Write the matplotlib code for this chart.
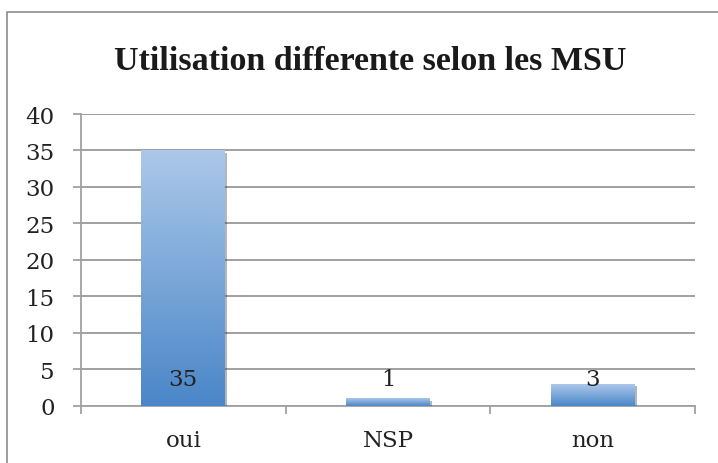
import numpy as np
import matplotlib.pyplot as plt
from matplotlib.patches import Rectangle
from matplotlib.colors import LinearSegmentedColormap
import matplotlib.patheffects as pe

categories = ['oui', 'NSP', 'non']
values = [35, 1, 3]
title = 'Utilisation differente selon les MSU'

fig = plt.figure(figsize=(7.18, 4.64), dpi=100)
ax = fig.add_axes([81/718, 1-406.5/464, (695-81)/718, (406.5-115)/464])

# outer chart frame
fig.patches.append(Rectangle((7/718, -0.1), 1.2, 1-13/464+0.1, transform=fig.transFigure,
                             fill=False, edgecolor='#8c8c8c', linewidth=1.2))

x = np.arange(len(categories))
cmap = LinearSegmentedColormap.from_list('excel', ['#4a86c8', '#abc8e9'])
grad = np.linspace(0, 1, 256).reshape(-1, 1)
bars = ax.bar(x, values, width=0.41, color='#7aa7db', zorder=3,
              path_effects=[pe.SimplePatchShadow(offset=(1.5, -2), alpha=0.35), pe.Normal()])
for b in bars:
    x0, y0 = b.get_x(), b.get_y()
    im = ax.imshow(grad, cmap=cmap, origin='lower', aspect='auto', zorder=4,
                   extent=[x0, x0 + b.get_width(), y0, y0 + b.get_height()])
    im.set_clip_path(b)

for xi, v in zip(x, values):
    ax.text(xi, 3.7, str(v), ha='center', va='center', fontsize=16.5,
            family='DejaVu Serif', color='#222222', zorder=5)

ax.set_xlim(-0.5, 2.5)
ax.set_ylim(0, 40)
ax.set_yticks(range(0, 41, 5))
ax.set_xticks(x)
ax.set_xticklabels(categories)
ax.set_xticks([-0.5, 0.5, 1.5, 2.5], minor=True)
ax.tick_params(axis='x', which='major', length=0, pad=17)
ax.tick_params(axis='x', which='minor', length=6, width=1.3, color='#a0a0a0')
ax.tick_params(axis='y', length=6, width=1.3, color='#a0a0a0', pad=13)
for lab in ax.get_xticklabels() + ax.get_yticklabels():
    lab.set_family('DejaVu Serif')
    lab.set_fontsize(16.5)
    lab.set_color('#222222')

ax.grid(axis='y', color='#a0a0a0', linewidth=1.4, zorder=0)
ax.set_axisbelow(True)
for s in ['top', 'right']:
    ax.spines[s].set_visible(False)
ax.spines['left'].set_color('#a0a0a0')
ax.spines['bottom'].set_color('#a0a0a0')
ax.spines['left'].set_linewidth(1.3)
ax.spines['bottom'].set_linewidth(1.3)

fig.text(370/718, 1-62/464, title, ha='center', va='center', fontsize=24.5,
         family='Liberation Serif', weight='bold', color='#1a1a1a')

fig.savefig('out.png', dpi=100)
